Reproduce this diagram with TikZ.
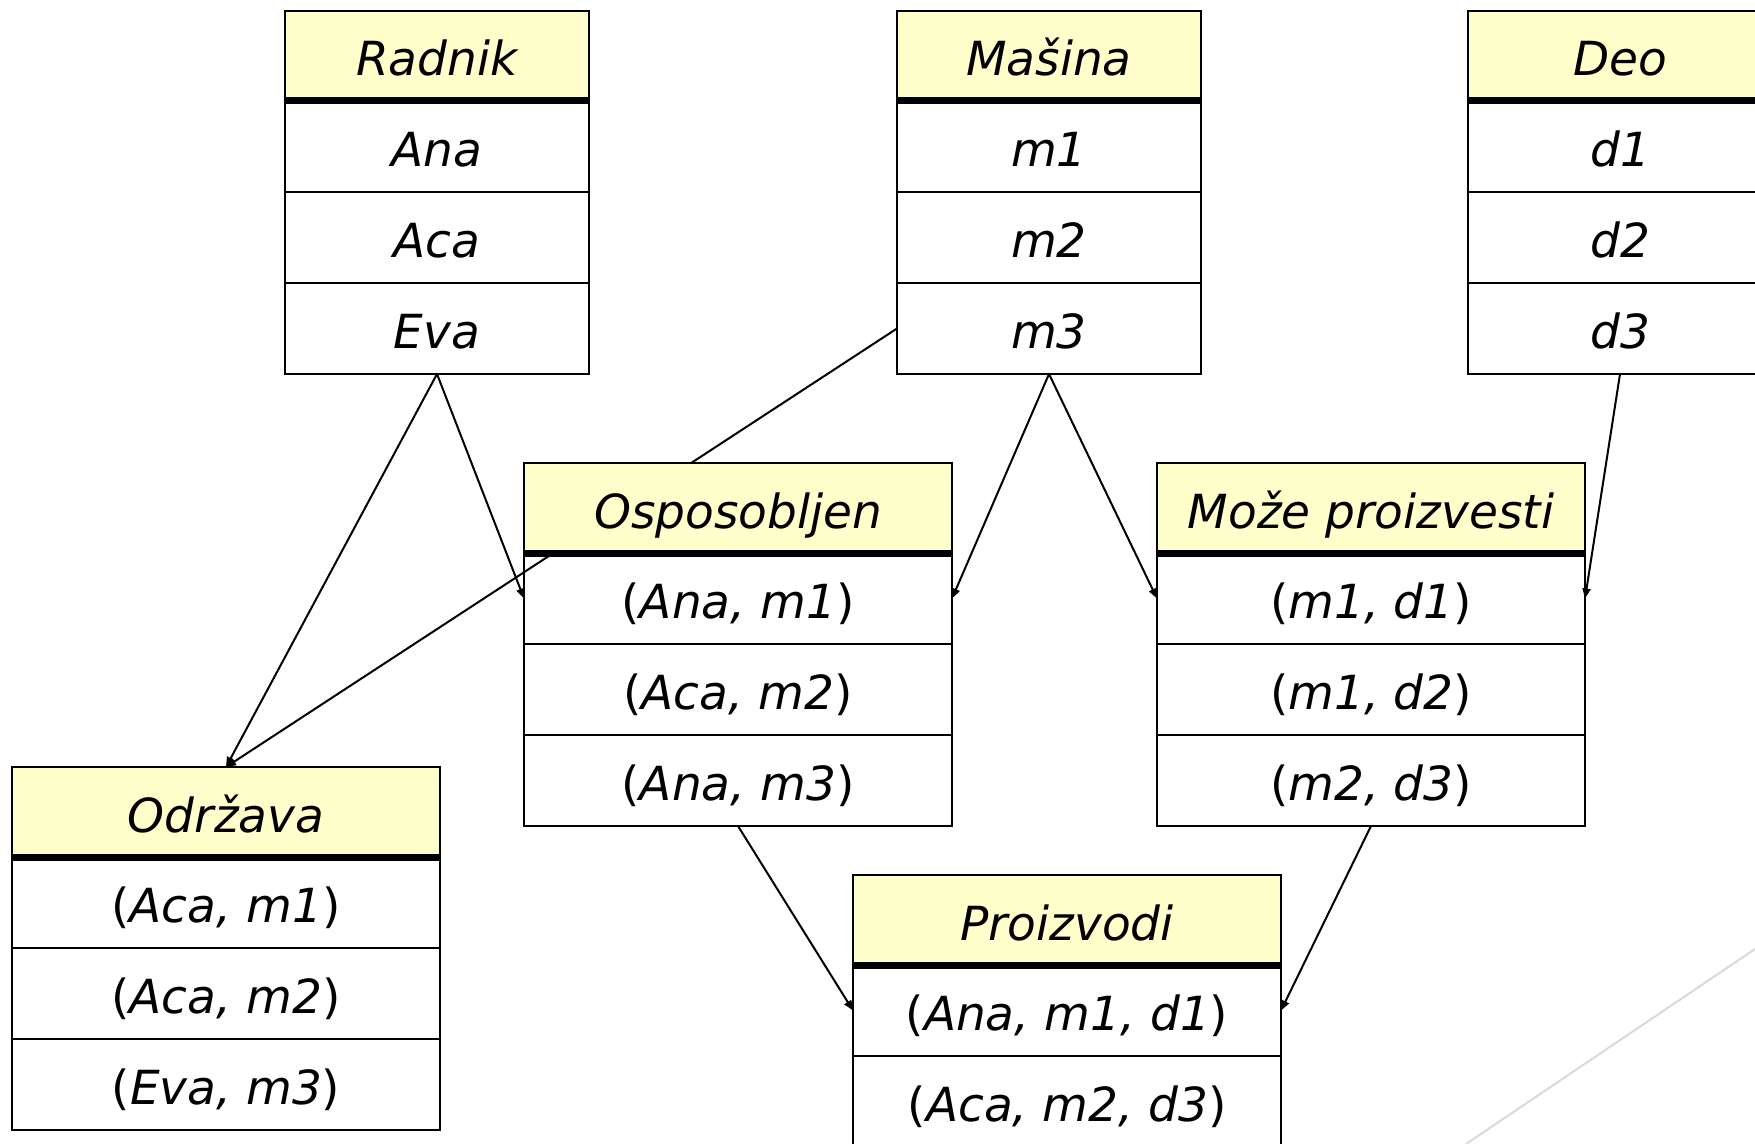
\documentclass[tikz,border=0pt]{standalone}
\usepackage{fontspec}
\setmainfont{DejaVu Sans}
\usetikzlibrary{arrows.meta}
\pgfdeclarelayer{bottomlayer}
\pgfdeclarelayer{connlayer}
\pgfsetlayers{bottomlayer,connlayer,main}
\definecolor{hdrfill}{HTML}{FFFFCC}
\definecolor{decogray}{HTML}{D9D9D9}
\tikzset{
  tbox/.style={rectangle, draw=black, line width=0.9pt, inner sep=0pt, outer sep=0pt, anchor=north west, text height=23pt, text depth=3pt, font=\fontsize{23.5}{27}\selectfont\itshape},
  hdr/.style={tbox, fill=hdrfill, minimum height=45pt},
  cell/.style={tbox, minimum height=45.5pt},
  narrow/.style={minimum width=152pt},
  wide/.style={minimum width=214pt},
  sepline/.style={line width=3.5pt},
  conn/.style={line width=1pt, -{Triangle[length=5pt,width=4pt]}},
  deco/.style={draw=decogray, line width=1pt}
}
\newcommand{\up}[1]{\textup{#1}}
\begin{document}
\begin{tikzpicture}[x=0.5pt,y=-0.5pt]
\useasboundingbox (0,0) rectangle (1755,1144);
\clip (0,0) rectangle (1755,1144);
\begin{pgfonlayer}{bottomlayer}
\fill[white] (0,0) rectangle (1755,1144);
\end{pgfonlayer}

% Radnik
\node[hdr,narrow] (radnik-h) at (285,11) {Radnik};
\node[cell,narrow] (radnik-1) at (radnik-h.south west) {Ana};
\node[cell,narrow] (radnik-2) at (radnik-1.south west) {Aca};
\node[cell,narrow] (radnik-3) at (radnik-2.south west) {Eva};
\draw[sepline] (radnik-h.south west) -- (radnik-h.south east);

% Masina
\node[hdr,narrow] (masina-h) at (897,11) {Mašina};
\node[cell,narrow] (masina-1) at (masina-h.south west) {m1};
\node[cell,narrow] (masina-2) at (masina-1.south west) {m2};
\node[cell,narrow] (masina-3) at (masina-2.south west) {m3};
\draw[sepline] (masina-h.south west) -- (masina-h.south east);

% Deo
\node[hdr,narrow] (deo-h) at (1468,11) {Deo};
\node[cell,narrow] (deo-1) at (deo-h.south west) {d1};
\node[cell,narrow] (deo-2) at (deo-1.south west) {d2};
\node[cell,narrow] (deo-3) at (deo-2.south west) {d3};
\draw[sepline] (deo-h.south west) -- (deo-h.south east);

% Osposobljen
\node[hdr,wide] (osp-h) at (524,463) {Osposobljen};
\node[cell,wide] (osp-1) at (osp-h.south west) {\up{(}Ana, m1\up{)}};
\node[cell,wide] (osp-2) at (osp-1.south west) {\up{(}Aca, m2\up{)}};
\node[cell,wide] (osp-3) at (osp-2.south west) {\up{(}Ana, m3\up{)}};
\draw[sepline] (osp-h.south west) -- (osp-h.south east);

% Moze proizvesti
\node[hdr,wide] (moze-h) at (1157,463) {Može proizvesti};
\node[cell,wide] (moze-1) at (moze-h.south west) {\up{(}m1, d1\up{)}};
\node[cell,wide] (moze-2) at (moze-1.south west) {\up{(}m1, d2\up{)}};
\node[cell,wide] (moze-3) at (moze-2.south west) {\up{(}m2, d3\up{)}};
\draw[sepline] (moze-h.south west) -- (moze-h.south east);

% Odrzava
\node[hdr,wide] (odr-h) at (12,767) {Održava};
\node[cell,wide] (odr-1) at (odr-h.south west) {\up{(}Aca, m1\up{)}};
\node[cell,wide] (odr-2) at (odr-1.south west) {\up{(}Aca, m2\up{)}};
\node[cell,wide] (odr-3) at (odr-2.south west) {\up{(}Eva, m3\up{)}};
\draw[sepline] (odr-h.south west) -- (odr-h.south east);

% Proizvodi
\node[hdr,wide] (proiz-h) at (853,875) {Proizvodi};
\node[cell,wide] (proiz-1) at (proiz-h.south west) {\up{(}Ana, m1, d1\up{)}};
\node[cell,wide] (proiz-2) at (proiz-1.south west) {\up{(}Aca, m2, d3\up{)}};
\draw[sepline] (proiz-h.south west) -- (proiz-h.south east);

% connectors (under the tables, so the yellow header hides the crossing line)
\begin{pgfonlayer}{connlayer}
\draw[conn] (radnik-3.south) -- (odr-h.north);
\draw[conn] (radnik-3.south) -- (osp-1.west);
\draw[conn] (masina-3.west) -- (odr-h.north);
\draw[conn] (masina-3.south) -- (osp-1.east);
\draw[conn] (masina-3.south) -- (moze-1.west);
\draw[conn] (deo-3.south) -- (moze-1.east);
\draw[conn] (osp-3.south) -- (proiz-1.west);
\draw[conn] (moze-3.south) -- (proiz-1.east);
\end{pgfonlayer}

% decorative slide line
\draw[deco] (1755,949) -- (1466,1144);
\end{tikzpicture}
\end{document}
